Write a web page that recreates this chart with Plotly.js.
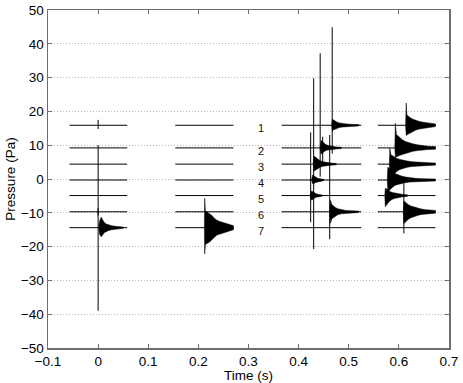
<!DOCTYPE html>
<html>
<head>
<meta charset="utf-8">
<script src="https://cdn.plot.ly/plotly-3.0.1.min.js"></script>
<style>html,body{margin:0;padding:0;background:#fff;}#chart{width:463px;height:383px;}</style>
</head>
<body>
<div id="chart"></div>
<script>
// ---- data ----
const traceLevels = [15.9, 9.2, 4.4, -0.3, -4.9, -9.7, -14.4];
const traceLabels = ['1', '2', '3', '4', '5', '6', '7'];
const windowStart = [-0.057, 0.154, 0.366, 0.558];
const windowEnd   = [0.058, 0.270, 0.525, 0.673];

// decaying bursts: trace number, sample times, upper / lower envelope (offset from trace level)
const burstTrace = [7, 7, 1, 2, 3, 4, 5, 6, 1, 2, 3, 4, 5, 6];
const burstTimes = [
  [0.001,0.003,0.006,0.009,0.012,0.016,0.021,0.027,0.034,0.042,0.050],
  [0.212,0.2126,0.214,0.218,0.222,0.227,0.232,0.237,0.243,0.250,0.258,0.266,0.270],
  [0.466,0.467,0.469,0.472,0.476,0.481,0.488,0.497,0.508,0.520],
  [0.443,0.445,0.447,0.450,0.454,0.459,0.466,0.475,0.485],
  [0.429,0.431,0.434,0.438,0.443,0.449,0.456,0.465,0.475],
  [0.426,0.428,0.431,0.434,0.438,0.443,0.450],
  [0.423,0.425,0.428,0.431,0.435,0.440,0.447],
  [0.462,0.4635,0.466,0.469,0.473,0.478,0.485,0.494,0.505,0.520],
  [0.6135,0.6146,0.616,0.619,0.623,0.628,0.634,0.641,0.649,0.658,0.667,0.673],
  [0.592,0.593,0.595,0.598,0.602,0.607,0.613,0.620,0.628,0.637,0.647,0.658,0.673],
  [0.581,0.582,0.584,0.587,0.591,0.596,0.602,0.609,0.617,0.626,0.636,0.648,0.660,0.673],
  [0.577,0.578,0.580,0.583,0.587,0.592,0.598,0.605,0.613,0.622,0.633,0.646,0.660,0.673],
  [0.572,0.573,0.575,0.578,0.582,0.587,0.593,0.600,0.608,0.617],
  [0.609,0.610,0.612,0.615,0.619,0.624,0.630,0.637,0.645,0.654,0.664,0.673]
];
const burstUpper = [
  [0.3,2.0,3.1,2.4,1.6,1.1,0.8,0.6,0.4,0.3,0.2],
  [0.3,8.7,5.0,4.6,4.3,3.6,2.8,2.2,1.8,1.5,1.1,0.8,0.6],
  [0.2,1.8,1.6,1.3,1.0,0.7,0.5,0.35,0.25,0.2],
  [0.2,2.2,2.0,1.5,1.0,0.7,0.5,0.3,0.2],
  [0.2,2.3,2.0,1.5,1.0,0.7,0.45,0.3,0.2],
  [0.2,1.5,1.2,0.8,0.5,0.35,0.2],
  [0.2,1.3,1.2,0.8,0.5,0.35,0.2],
  [0.2,3.4,2.2,1.8,1.3,0.9,0.6,0.4,0.3,0.2],
  [0.3,6.6,3.0,2.6,2.2,1.8,1.4,1.1,0.9,0.7,0.5,0.4],
  [0.3,7.3,4.0,3.6,3.0,2.4,1.9,1.5,1.2,0.9,0.7,0.5,0.4],
  [0.3,4.7,2.8,2.5,2.1,1.7,1.4,1.1,0.9,0.7,0.55,0.45,0.4,0.3],
  [0.3,3.8,3.5,3.0,2.4,1.9,1.5,1.2,0.9,0.7,0.5,0.4,0.35,0.3],
  [0.3,2.2,2.0,1.6,1.2,0.9,0.7,0.5,0.35,0.25],
  [0.3,3.2,3.0,2.6,2.1,1.7,1.4,1.1,0.8,0.6,0.5,0.4]
];
const burstLower = [
  [-0.3,-2.0,-2.7,-2.2,-1.5,-1.1,-0.8,-0.6,-0.4,-0.3,-0.2],
  [-0.3,-7.8,-5.0,-4.6,-4.3,-3.6,-2.8,-2.2,-1.8,-1.5,-1.1,-0.8,-0.6],
  [-0.2,-1.6,-1.4,-1.2,-0.9,-0.7,-0.5,-0.35,-0.25,-0.2],
  [-0.2,-1.8,-1.5,-1.2,-0.8,-0.6,-0.4,-0.3,-0.2],
  [-0.2,-2.0,-1.8,-1.3,-0.9,-0.6,-0.4,-0.3,-0.2],
  [-0.2,-1.1,-1.0,-0.7,-0.5,-0.35,-0.2],
  [-0.2,-1.3,-1.2,-0.8,-0.5,-0.35,-0.2],
  [-0.2,-3.4,-2.2,-1.8,-1.3,-0.9,-0.6,-0.4,-0.3,-0.2],
  [-0.3,-3.0,-2.9,-2.6,-2.2,-1.8,-1.4,-1.1,-0.9,-0.7,-0.5,-0.4],
  [-0.3,-2.8,-2.7,-2.5,-2.2,-1.9,-1.6,-1.3,-1.0,-0.8,-0.6,-0.5,-0.4],
  [-0.3,-4.7,-4.3,-3.6,-2.8,-2.1,-1.6,-1.2,-0.9,-0.7,-0.55,-0.45,-0.4,-0.3],
  [-0.3,-3.6,-3.3,-2.7,-2.1,-1.6,-1.3,-1.0,-0.8,-0.6,-0.5,-0.4,-0.35,-0.3],
  [-0.3,-3.3,-3.0,-2.3,-1.6,-1.1,-0.8,-0.5,-0.35,-0.25],
  [-0.3,-3.5,-3.2,-2.7,-2.2,-1.8,-1.4,-1.1,-0.8,-0.6,-0.5,-0.4]
];

// single-sample spikes (absolute pressure, Pa)
const spikeTime = [0.000, 0.000, 0.000, 0.467, 0.443, 0.448, 0.430, 0.424, 0.462, 0.610];
const spikeLow  = [-39.0, 14.8, -10.8, 7.5, 0.7, 5.0, -20.7, -12.8, -17.8, -16.1];
const spikeHigh = [10.0, 17.5, -8.5, 44.9, 37.2, 12.5, 29.8, 13.8, 13.0, -1.3];

// ---- build traces ----
const data = [];
const lineStyle = {color: '#000', width: 1};

// baselines
traceLevels.forEach((lvl) => {
  const xs = [], ys = [];
  for (let w = 0; w < windowStart.length; w++) {
    xs.push(windowStart[w], windowEnd[w], null);
    ys.push(lvl, lvl, null);
  }
  data.push({x: xs, y: ys, mode: 'lines', line: lineStyle, hoverinfo: 'skip', showlegend: false});
});

// bursts as filled envelopes
burstTrace.forEach((tr, i) => {
  const lvl = traceLevels[tr - 1];
  const t = burstTimes[i];
  const xs = t.concat(t.slice().reverse());
  const ys = burstUpper[i].map(v => lvl + v).concat(burstLower[i].map(v => lvl + v).reverse());
  xs.push(xs[0]); ys.push(ys[0]);
  data.push({x: xs, y: ys, mode: 'lines', fill: 'toself', fillcolor: '#000',
             line: {color: '#000', width: 0.5}, hoverinfo: 'skip', showlegend: false});
});

// spikes
{
  const xs = [], ys = [];
  spikeTime.forEach((t, i) => { xs.push(t, t, null); ys.push(spikeLow[i], spikeHigh[i], null); });
  data.push({x: xs, y: ys, mode: 'lines', line: {color: '#000', width: 1}, hoverinfo: 'skip', showlegend: false});
}

const annotations = traceLevels.map((lvl, i) => ({
  x: 0.324, y: lvl, xref: 'x', yref: 'y', text: traceLabels[i], showarrow: false,
  yshift: -3, font: {family: 'Liberation Sans, Arial, sans-serif', size: 11, color: '#111'}
}));

const axisCommon = {
  showline: true, linecolor: '#6e6e6e', linewidth: 1.5, mirror: 'ticks',
  ticks: 'inside', ticklen: 4, tickcolor: '#6e6e6e', tickwidth: 1,
  zeroline: false, fixedrange: true,
  tickfont: {family: 'Liberation Sans, Arial, sans-serif', size: 13.5, color: '#000'}
};

const layout = {
  width: 463, height: 383,
  margin: {l: 48, r: 14, t: 10, b: 35},
  paper_bgcolor: '#fff', plot_bgcolor: '#fff',
  showlegend: false,
  font: {family: 'Liberation Sans, Arial, sans-serif', size: 13.5, color: '#000'},
  xaxis: Object.assign({}, axisCommon, {
    range: [-0.1, 0.7], tick0: -0.1, dtick: 0.1, showgrid: false,
    title: {text: 'Time (s)', standoff: 1, font: {size: 13.5}}
  }),
  yaxis: Object.assign({}, axisCommon, {
    range: [-50, 50], tick0: -50, dtick: 10, showgrid: true,
    gridcolor: '#b4b4b4', griddash: '1px,2px', gridwidth: 1,
    title: {text: 'Pressure (Pa)', standoff: 2, font: {size: 13.5}}
  }),
  annotations: annotations
};

Plotly.newPlot('chart', data, layout, {displayModeBar: false, staticPlot: true});
</script>
</body>
</html>
